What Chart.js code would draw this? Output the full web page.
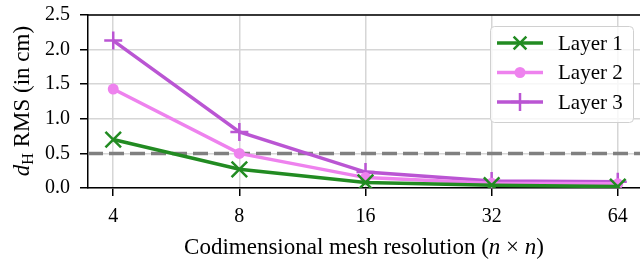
<!DOCTYPE html>
<html>
<head>
<meta charset="utf-8">
<script src="https://cdn.jsdelivr.net/npm/chart.js@4"></script>
<style>
  html, body { margin: 0; padding: 0; overflow: hidden; background: #fff; width: 640px; height: 260px; }
  canvas { display: block; }
</style>
</head>
<body>
<canvas id="c" width="660" height="260"></canvas>
<script>
const resolutions = [4, 8, 16, 32, 64];
const layer1 = [0.70, 0.27, 0.08, 0.04, 0.02];
const layer2 = [1.43, 0.50, 0.15, 0.07, 0.06];
const layer3 = [2.13, 0.81, 0.23, 0.10, 0.09];
const threshold = 0.5;
const seriesNames = ['Layer 1', 'Layer 2', 'Layer 3'];
const yTicks = [0, 0.5, 1.0, 1.5, 2.0, 2.5];

const FONT = "'Liberation Serif', 'DejaVu Serif', serif";
const FS = 20;
const FT = 23;
const FL = 21;
const colors = ['#228B22', '#EE82EE', '#BA55D3'];
const pstyles = ['crossRot', 'circle', 'cross'];
const pradius = [11, 5.5, 9];

function pts(arr) { return resolutions.map((r, i) => ({ x: r, y: arr[i] })); }

const datasets = [layer1, layer2, layer3].map((arr, i) => ({
  label: seriesNames[i],
  data: pts(arr),
  borderColor: colors[i],
  backgroundColor: colors[i],
  borderWidth: 3.5,
  pointStyle: pstyles[i],
  pointRadius: pradius[i],
  pointBorderWidth: i === 1 ? 0 : 2.5,
  pointHoverRadius: pradius[i],
  tension: 0,
  fill: false
}));

function drawMarker(ctx, style, x, y, r, color) {
  ctx.save();
  ctx.strokeStyle = color; ctx.fillStyle = color; ctx.lineWidth = 2.5;
  ctx.beginPath();
  if (style === 'circle') { ctx.arc(x, y, r, 0, Math.PI * 2); ctx.fill(); }
  else if (style === 'cross') { ctx.moveTo(x - r, y); ctx.lineTo(x + r, y); ctx.moveTo(x, y - r); ctx.lineTo(x, y + r); ctx.stroke(); }
  else { const d = r * Math.SQRT1_2; ctx.moveTo(x - d, y - d); ctx.lineTo(x + d, y + d); ctx.moveTo(x - d, y + d); ctx.lineTo(x + d, y - d); ctx.stroke(); }
  ctx.restore();
}

const decor = {
  id: 'decor',
  beforeDatasetsDraw(chart) {
    const { ctx, chartArea: a, scales } = chart;
    const y = scales.y.getPixelForValue(threshold);
    ctx.save();
    ctx.beginPath();
    ctx.rect(a.left, a.top, a.right - a.left, a.bottom - a.top);
    ctx.clip();
    ctx.strokeStyle = '#808080';
    ctx.lineWidth = 3.5;
    ctx.setLineDash([15, 6]);
    ctx.beginPath();
    ctx.moveTo(a.left, y); ctx.lineTo(a.right, y);
    ctx.stroke();
    ctx.restore();
  },
  afterDraw(chart) {
    const { ctx, chartArea: a } = chart;
    ctx.save();
    ctx.strokeStyle = '#000'; ctx.lineWidth = 1.5;
    ctx.beginPath();
    ctx.moveTo(a.left, a.top); ctx.lineTo(a.right, a.top); ctx.lineTo(a.right, a.bottom);
    ctx.stroke();

    // legend
    const lx = 490, ly = 26, lw = 143, lh = 96;
    ctx.fillStyle = 'rgba(255,255,255,0.8)';
    ctx.strokeStyle = '#d0d0d0'; ctx.lineWidth = 1;
    ctx.beginPath();
    ctx.roundRect(lx + 0.5, ly + 0.5, lw, lh, 4);
    ctx.fill(); ctx.stroke();
    ctx.font = FL + 'px ' + FONT;
    ctx.textBaseline = 'middle'; ctx.textAlign = 'left';
    for (let i = 0; i < 3; i++) {
      const yy = ly + 17 + i * 29.5;
      ctx.strokeStyle = colors[i]; ctx.lineWidth = 3.5;
      ctx.beginPath(); ctx.moveTo(497, yy); ctx.lineTo(543, yy); ctx.stroke();
      drawMarker(ctx, pstyles[i], 520, yy, i === 0 ? 9 : pradius[i], colors[i]);
      ctx.fillStyle = '#000';
      ctx.fillText(seriesNames[i], 558, yy + 1);
    }

    // x title with italic n
    const parts = [
      { t: 'Codimensional mesh resolution (', it: false },
      { t: 'n', it: true },
      { t: ' \u00D7 ', it: false },
      { t: 'n', it: true },
      { t: ')', it: false }
    ];
    let total = 0;
    parts.forEach(p => { ctx.font = (p.it ? 'italic ' : '') + FT + 'px ' + FONT; p.w = ctx.measureText(p.t).width; total += p.w; });
    let x = 364 - total / 2;
    ctx.textBaseline = 'alphabetic'; ctx.fillStyle = '#000';
    parts.forEach(p => { ctx.font = (p.it ? 'italic ' : '') + FT + 'px ' + FONT; ctx.fillText(p.t, x, 254); x += p.w; });

    // y title: d_H RMS (in cm)
    ctx.translate(29, 101);
    ctx.rotate(-Math.PI / 2);
    const yparts = [
      { t: 'd', f: 'italic ' + FT + 'px ' + FONT, dy: 0 },
      { t: 'H', f: (FT * 0.7) + 'px ' + FONT, dy: 4 },
      { t: ' RMS (in cm)', f: FT + 'px ' + FONT, dy: 0 }
    ];
    total = 0;
    yparts.forEach(p => { ctx.font = p.f; p.w = ctx.measureText(p.t).width; total += p.w; });
    x = -total / 2;
    yparts.forEach(p => { ctx.font = p.f; ctx.fillText(p.t, x, p.dy); x += p.w; });
    ctx.restore();
  }
};

new Chart(document.getElementById('c'), {
  type: 'line',
  data: { datasets },
  options: {
    responsive: false,
    animation: false,
    layout: { padding: { left: 0, top: 15, right: 17, bottom: 0 } },
    plugins: { legend: { display: false }, tooltip: { enabled: false } },
    scales: {
      x: {
        type: 'logarithmic',
        min: 4 / Math.pow(2, 0.2),
        max: 64 * Math.pow(2, 0.2),
        afterBuildTicks(s) { s.ticks = resolutions.map(v => ({ value: v })); },
        afterFit(s) { s.height = 72; s.paddingLeft = 0; s.paddingRight = 0; },
        ticks: { callback: v => String(v), font: { family: FONT, size: FS }, color: '#000', padding: 9, maxRotation: 0, autoSkip: false },
        grid: { color: '#d6d6d6', lineWidth: 1.5, tickColor: '#000', tickLength: 8, tickWidth: 1.5 },
        border: { color: '#000', width: 1.5 }
      },
      y: {
        min: 0, max: 2.5,
        afterBuildTicks(s) { s.ticks = yTicks.map(v => ({ value: v })); },
        afterFit(s) { s.width = 88; s.paddingTop = 0; s.paddingBottom = 0; },
        ticks: { callback: v => v.toFixed(1), font: { family: FONT, size: FS }, color: '#000', padding: 10 },
        grid: { color: '#d6d6d6', lineWidth: 1.5, tickColor: '#000', tickLength: 8, tickWidth: 1.5 },
        border: { color: '#000', width: 1.5 }
      }
    }
  },
  plugins: [decor]
});
</script>
</body>
</html>
